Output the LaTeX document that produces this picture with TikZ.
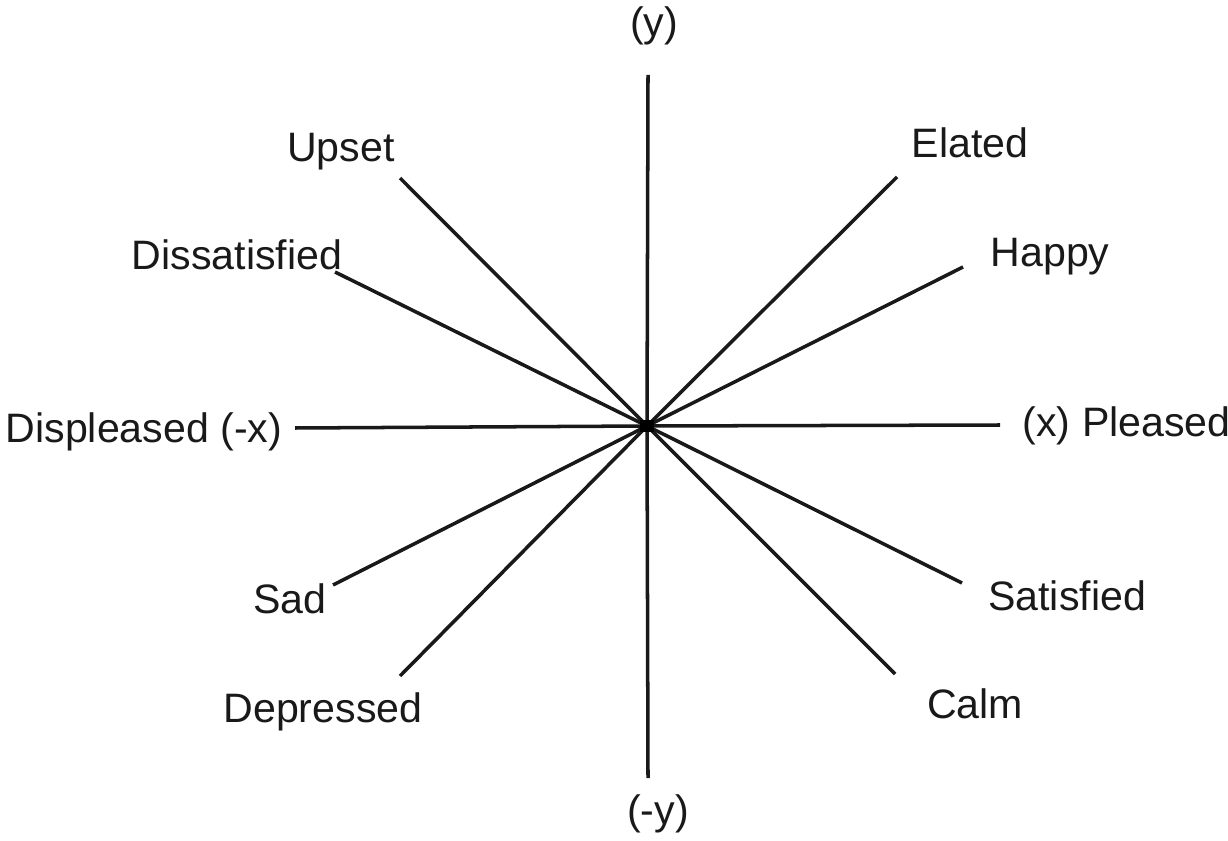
\documentclass[tikz,border=0pt]{standalone}
\usepackage{fontspec}
\setmainfont{Liberation Sans}
\usepackage{xcolor}

\begin{document}
\begin{tikzpicture}[
    spoke/.style={line width=1pt, black!90},
    mood/.style={anchor=base, inner sep=0pt, text=black!90, font=\fontsize{11.7}{14}\selectfont}
  ]
    \useasboundingbox (0,0) rectangle (12.28,8.40);

    % Centre and free ends
    \coordinate (o) at (6.47,4.14);
    \coordinate (ytop) at (6.48,7.65);
    \coordinate (ybot) at (6.48,0.62);
    \coordinate (xleft) at (2.95,4.12);
    \coordinate (xright) at (10.00,4.15);
    \coordinate (upsetend) at (4.00,6.62);
    \coordinate (dissend) at (3.35,5.68);
    \coordinate (elatedend) at (8.97,6.63);
    \coordinate (happyend) at (9.63,5.73);
    \coordinate (sadend) at (3.33,2.55);
    \coordinate (depend) at (4.00,1.64);
    \coordinate (satend) at (9.62,2.57);
    \coordinate (calmend) at (8.95,1.66);

    % Axes
    \draw[spoke] (o) -- (ytop);
    \draw[spoke] (o) -- (ybot);
    \draw[spoke] (o) -- (xleft);
    \draw[spoke] (o) -- (xright);

    % Spokes
    \foreach \e in {upsetend, dissend, elatedend, happyend, sadend, depend, satend, calmend}
        \draw[spoke] (o) -- (\e);

    % Centre point
    \fill[black] (o) +(-0.07,-0.06) rectangle +(0.07,0.06);

    % Axis labels
    \node[mood] (ylab) at (6.54,8.03) {(y)};
    \node[mood] (mylab) at (6.58,0.16) {(-y)};
    \node[mood, anchor=base west] (displeased) at (0.05,3.98) {Displeased (-x)};
    \node[mood, anchor=base west] (pleased) at (10.22,4.03) {(x) Pleased};

    % Mood labels
    \node[mood] (upset) at (3.41,6.78) {Upset};
    \node[mood] (dissatisfied) at (2.37,5.70) {Dissatisfied};
    \node[mood] (elated) at (9.70,6.82) {Elated};
    \node[mood] (happy) at (10.50,5.73) {Happy};
    \node[mood] (sad) at (2.90,2.27) {Sad};
    \node[mood] (depressed) at (3.23,1.18) {Depressed};
    \node[mood] (satisfied) at (10.67,2.30) {Satisfied};
    \node[mood] (calm) at (9.75,1.22) {Calm};
\end{tikzpicture}
\end{document}
